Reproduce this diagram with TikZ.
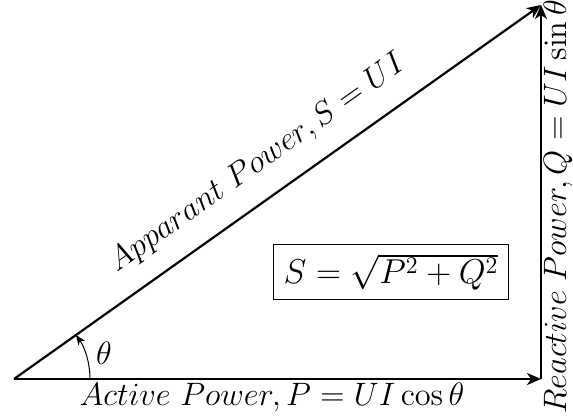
\RequirePackage{fix-cm}
\documentclass[tikz,border=0pt]{standalone}
\usetikzlibrary{arrows.meta,calc}
\begin{document}
\begin{tikzpicture}[x=0.5pt,y=0.5pt,
  vec/.style={line width=1.1pt,-{Stealth[length=7pt,width=6pt,inset=2pt]}},
  lbl/.style={font=\fontsize{16.2}{19}\selectfont,inner sep=1pt},
  flbl/.style={font=\fontsize{17.28}{20}\selectfont}]
\useasboundingbox (0,0) rectangle (573,419);
\coordinate (O) at (14,40);
\coordinate (A) at (541,40);
\coordinate (B) at (541,414);
\draw[vec] (O) -- (A);
\draw[vec] (A) -- (B);
\draw[vec] (O) -- (B);
\draw[-{Stealth[length=5pt,width=4pt,inset=1.5pt]},line width=0.5pt] ([shift={(0:76)}]O) arc[start angle=0,end angle=35.36,radius=76];
\node[lbl] (th) at (104,66) {$\theta$};
\node[lbl,anchor=base] (pl) at (272,14) {$Active\ Power, P = UI\cos\theta$};
\node[lbl,anchor=base,rotate=35.36] (sl) at (262,249) {$Apparant\ Power, S = UI$};
\node[lbl,anchor=base,rotate=90] (ql) at (566,212) {$Reactive\ Power, Q = UI\sin\theta$};
\node[flbl,draw,line width=0.5pt,inner sep=5pt] (f) at (391,147) {$S=\sqrt{P^2+Q^2}$};
\end{tikzpicture}
\end{document}
